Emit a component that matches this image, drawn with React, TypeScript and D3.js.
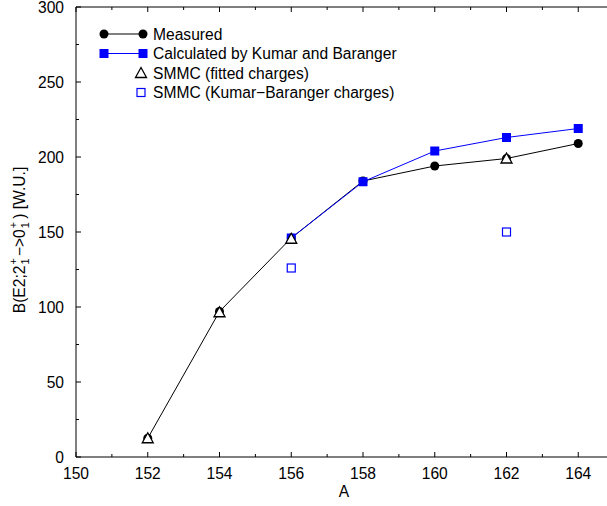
import React from "react";
import * as d3 from "d3";

const massNumbers = [152, 154, 156, 158, 160, 162, 164];
const measured = [12.5, 97, 146, 184, 194, 199, 209];
const calcA = [156, 158, 160, 162, 164];
const calculated = [146, 183.5, 204, 213, 219];
const smmcFitA = [152, 154, 156, 162];
const smmcFit = [12.5, 96.5, 145.5, 199];
const smmcKBA = [156, 162];
const smmcKB = [126, 150];
const xTicks = [150, 152, 154, 156, 158, 160, 162, 164];
const yTicks = [0, 50, 100, 150, 200, 250, 300];

const FONT = "'Liberation Sans', Arial, Helvetica, sans-serif";
const FS = 15.6;

export default function App() {
  const left = 76, top = 7, bottom = 457, right = 650;
  const x = d3.scaleLinear().domain([150, 166]).range([left, right]);
  const y = d3.scaleLinear().domain([0, 300]).range([bottom, top]);
  const line = d3.line<[number, number]>().x(d => x(d[0])).y(d => y(d[1]));
  const measPts: [number, number][] = massNumbers.map((a, i) => [a, measured[i]]);
  const calcPts: [number, number][] = calcA.map((a, i) => [a, calculated[i]]);
  const minorX = d3.range(151, 166, 2);
  const minorY = d3.range(25, 300, 50);
  const blue = "#0000ff";

  const tri = (cx: number, cy: number, k: string) => (
    <path key={k} d={`M${cx},${cy - 5.5}L${cx + 5.5},${cy + 4.5}L${cx - 5.5},${cy + 4.5}Z`} fill="#fff" stroke="#000" strokeWidth={1.3} />
  );
  const sqFill = (cx: number, cy: number, k: string) => (
    <rect key={k} x={cx - 4.5} y={cy - 4.5} width={9} height={9} fill={blue} />
  );
  const sqOpen = (cx: number, cy: number, k: string) => (
    <rect key={k} x={cx - 4} y={cy - 4} width={8} height={8} fill="none" stroke={blue} strokeWidth={1.2} />
  );

  const legendY = [34, 53.5, 73, 92.5];
  const lx1 = 104, lx2 = 143, tx = 153;

  return (
    <svg width={607} height={506} style={{ position: "fixed", left: 0, top: 0, background: "#fff" }} fontFamily={FONT} fontSize={FS}>
      <rect x={0} y={0} width={607} height={506} fill="#fff" />
      {/* frame */}
      <path d={`M${right},${top}H${left}V${bottom}H${right}`} fill="none" stroke="#000" strokeWidth={1} />
      {/* x ticks */}
      {xTicks.map(t => (
        <g key={"xt" + t}>
          <line x1={x(t)} x2={x(t)} y1={bottom} y2={bottom - 5} stroke="#000" />
          <line x1={x(t)} x2={x(t)} y1={top} y2={top + 5} stroke="#000" />
          <text x={x(t)} y={bottom + 22} textAnchor="middle">{t}</text>
        </g>
      ))}
      {minorX.map(t => (
        <g key={"xm" + t}>
          <line x1={x(t)} x2={x(t)} y1={bottom} y2={bottom - 3} stroke="#000" />
          <line x1={x(t)} x2={x(t)} y1={top} y2={top + 3} stroke="#000" />
        </g>
      ))}
      {/* y ticks */}
      {yTicks.map(t => (
        <g key={"yt" + t}>
          <line x1={left} x2={left + 5} y1={y(t)} y2={y(t)} stroke="#000" />
          <text x={64} y={y(t) + 5.5} textAnchor="end">{t}</text>
        </g>
      ))}
      {minorY.map(t => (
        <line key={"ym" + t} x1={left} x2={left + 3} y1={y(t)} y2={y(t)} stroke="#000" />
      ))}
      {/* axis titles */}
      <text x={344} y={497} textAnchor="middle">A</text>
      <text transform={`translate(25,240) rotate(-90)`} textAnchor="middle">
        B(E2;2
        <tspan fontSize={11} dx={1} dy={4}>1</tspan>
        <tspan fontSize={11} dx={-6.1} dy={-12}>+</tspan>
        <tspan dx={2} dy={8}>−&gt;0</tspan>
        <tspan fontSize={11} dx={1} dy={4}>1</tspan>
        <tspan fontSize={11} dx={-6.1} dy={-12}>+</tspan>
        <tspan dx={3} dy={8}>) [W.U.]</tspan>
      </text>
      {/* measured */}
      <path d={line(measPts) || ""} fill="none" stroke="#000" strokeWidth={1} />
      {measPts.map((p, i) => <circle key={"m" + i} cx={x(p[0])} cy={y(p[1])} r={4.5} fill="#000" />)}
      {/* calculated */}
      <path d={line(calcPts) || ""} fill="none" stroke={blue} strokeWidth={1} />
      {calcPts.map((p, i) => sqFill(x(p[0]), y(p[1]), "c" + i))}
      {/* SMMC fitted */}
      {smmcFitA.map((a, i) => tri(x(a), y(smmcFit[i]), "t" + i))}
      {/* SMMC KB */}
      {smmcKBA.map((a, i) => sqOpen(x(a), y(smmcKB[i]), "o" + i))}
      {/* legend */}
      <line x1={lx1} x2={lx2} y1={legendY[0]} y2={legendY[0]} stroke="#000" />
      <circle cx={lx1} cy={legendY[0]} r={4.5} fill="#000" />
      <circle cx={lx2} cy={legendY[0]} r={4.5} fill="#000" />
      <text x={tx} y={legendY[0] + 5.5}>Measured</text>
      <line x1={lx1} x2={lx2} y1={legendY[1]} y2={legendY[1]} stroke={blue} />
      {sqFill(lx1, legendY[1], "l1")}
      {sqFill(lx2, legendY[1], "l2")}
      <text x={tx} y={legendY[1] + 5.5}>Calculated by Kumar and Baranger</text>
      {tri(141, legendY[2], "l3")}
      <text x={tx} y={legendY[2] + 5.5}>SMMC (fitted charges)</text>
      {sqOpen(141, legendY[3], "l4")}
      <text x={tx} y={legendY[3] + 5.5}>SMMC (Kumar−Baranger charges)</text>
    </svg>
  );
}
